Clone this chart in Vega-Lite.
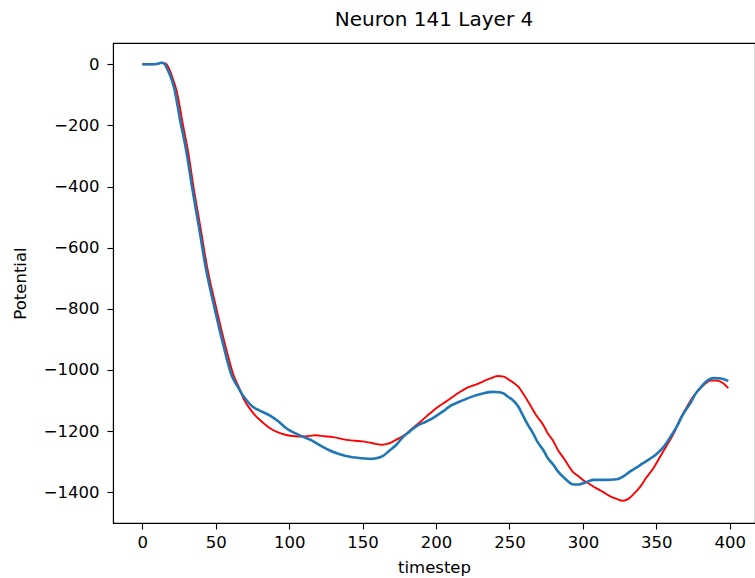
{
  "$schema": "https://vega.github.io/schema/vega-lite/v6.json",
  "width": 642,
  "height": 480,
  "autosize": {"type": "none"},
  "padding": {"left": 113, "top": 43, "right": 0, "bottom": 55},
  "background": "white",
  "title": {"text": "Neuron 141 Layer 4", "anchor": "middle", "frame": "group", "font": "DejaVu Sans", "fontSize": 20, "fontWeight": "normal", "color": "#000", "offset": -3, "baseline": "alphabetic"},
  "config": {
    "view": {"stroke": "#000", "strokeWidth": 1.1},
    "axis": {"grid": false, "labelFont": "DejaVu Sans", "labelFontSize": 16.5, "labelColor": "#000", "titleFont": "DejaVu Sans", "titleFontSize": 16.5, "titleFontWeight": "normal", "titleColor": "#000", "tickColor": "#000", "tickSize": 6, "tickWidth": 1.1, "domainColor": "#000", "domainWidth": 1.1, "labelPadding": 5, "format": "d"}
  },
  "datasets": {
    "blue": [
      {"t":0,"v":0},{"t":5,"v":0},{"t":10,"v":1},{"t":13,"v":5},{"t":15,"v":2},{"t":17,"v":-15},{"t":20,"v":-50},{"t":22,"v":-84},{"t":24,"v":-135},{"t":26,"v":-190},{"t":28,"v":-235},{"t":30,"v":-285},{"t":34,"v":-405},{"t":39,"v":-545},{"t":43,"v":-660},{"t":49,"v":-793},{"t":55,"v":-915},{"t":61,"v":-1020},{"t":65,"v":-1055},{"t":68,"v":-1080},{"t":72,"v":-1105},{"t":75,"v":-1120},{"t":80,"v":-1133},{"t":87,"v":-1150},{"t":93,"v":-1170},{"t":98,"v":-1191},{"t":104,"v":-1207},{"t":110,"v":-1220},{"t":115,"v":-1230},{"t":121,"v":-1247},{"t":127,"v":-1262},{"t":132,"v":-1272},{"t":138,"v":-1281},{"t":143,"v":-1286},{"t":150,"v":-1289},{"t":155,"v":-1291},{"t":160,"v":-1288},{"t":164,"v":-1281},{"t":168,"v":-1265},{"t":173,"v":-1245},{"t":177,"v":-1222},{"t":182,"v":-1202},{"t":187,"v":-1183},{"t":191,"v":-1174},{"t":196,"v":-1163},{"t":200,"v":-1151},{"t":205,"v":-1135},{"t":209,"v":-1120},{"t":215,"v":-1106},{"t":221,"v":-1094},{"t":226,"v":-1085},{"t":232,"v":-1077},{"t":239,"v":-1072},{"t":243,"v":-1073},{"t":246,"v":-1077},{"t":249,"v":-1088},{"t":252,"v":-1098},{"t":256,"v":-1120},{"t":259,"v":-1147},{"t":262,"v":-1175},{"t":266,"v":-1207},{"t":269,"v":-1235},{"t":273,"v":-1262},{"t":276,"v":-1288},{"t":280,"v":-1311},{"t":283,"v":-1332},{"t":287,"v":-1352},{"t":290,"v":-1365},{"t":293,"v":-1374},{"t":297,"v":-1375},{"t":300,"v":-1371},{"t":304,"v":-1364},{"t":307,"v":-1360},{"t":315,"v":-1360},{"t":323,"v":-1358},{"t":328,"v":-1347},{"t":332,"v":-1333},{"t":337,"v":-1318},{"t":341,"v":-1305},{"t":346,"v":-1290},{"t":350,"v":-1276},{"t":355,"v":-1252},{"t":359,"v":-1224},{"t":364,"v":-1185},{"t":368,"v":-1147},{"t":373,"v":-1110},{"t":377,"v":-1076},{"t":381,"v":-1053},{"t":384,"v":-1038},{"t":389,"v":-1027},{"t":394,"v":-1028},{"t":399,"v":-1037}
    ],
    "red": [
      {"t":0,"v":0},{"t":5,"v":0},{"t":10,"v":1},{"t":13,"v":5},{"t":16,"v":2},{"t":18,"v":-12},{"t":21,"v":-50},{"t":23,"v":-80},{"t":25,"v":-125},{"t":27,"v":-180},{"t":29,"v":-230},{"t":31,"v":-280},{"t":35,"v":-405},{"t":40,"v":-545},{"t":44,"v":-660},{"t":50,"v":-790},{"t":56,"v":-910},{"t":62,"v":-1015},{"t":66,"v":-1060},{"t":69,"v":-1095},{"t":73,"v":-1125},{"t":77,"v":-1150},{"t":82,"v":-1172},{"t":87,"v":-1191},{"t":92,"v":-1204},{"t":98,"v":-1213},{"t":104,"v":-1217},{"t":109,"v":-1218},{"t":114,"v":-1216},{"t":118,"v":-1214},{"t":124,"v":-1217},{"t":130,"v":-1220},{"t":135,"v":-1225},{"t":139,"v":-1229},{"t":145,"v":-1232},{"t":150,"v":-1234},{"t":155,"v":-1238},{"t":159,"v":-1242},{"t":163,"v":-1245},{"t":166,"v":-1243},{"t":170,"v":-1236},{"t":175,"v":-1223},{"t":180,"v":-1208},{"t":184,"v":-1191},{"t":190,"v":-1167},{"t":196,"v":-1142},{"t":201,"v":-1122},{"t":207,"v":-1103},{"t":212,"v":-1086},{"t":216,"v":-1073},{"t":221,"v":-1059},{"t":226,"v":-1050},{"t":232,"v":-1038},{"t":237,"v":-1028},{"t":242,"v":-1020},{"t":246,"v":-1022},{"t":249,"v":-1030},{"t":253,"v":-1043},{"t":256,"v":-1055},{"t":260,"v":-1083},{"t":264,"v":-1114},{"t":268,"v":-1147},{"t":273,"v":-1180},{"t":276,"v":-1207},{"t":280,"v":-1234},{"t":283,"v":-1262},{"t":287,"v":-1289},{"t":290,"v":-1312},{"t":293,"v":-1333},{"t":297,"v":-1348},{"t":300,"v":-1360},{"t":305,"v":-1375},{"t":309,"v":-1387},{"t":314,"v":-1400},{"t":318,"v":-1412},{"t":323,"v":-1422},{"t":327,"v":-1428},{"t":331,"v":-1422},{"t":334,"v":-1409},{"t":339,"v":-1383},{"t":343,"v":-1354},{"t":348,"v":-1322},{"t":352,"v":-1289},{"t":357,"v":-1248},{"t":362,"v":-1207},{"t":366,"v":-1163},{"t":371,"v":-1120},{"t":375,"v":-1088},{"t":380,"v":-1060},{"t":383,"v":-1046},{"t":387,"v":-1035},{"t":391,"v":-1035},{"t":396,"v":-1045},{"t":399,"v":-1060}
    ]
  },
  "encoding": {
    "x": {"field": "t", "type": "quantitative", "title": "timestep", "scale": {"domain": [-19.95, 417.2], "nice": false, "zero": false}, "axis": {"values": [0,50,100,150,200,250,300,350,400], "titlePadding": 9}},
    "y": {"field": "v", "type": "quantitative", "title": "Potential", "scale": {"domain": [-1501, 69.7], "nice": false, "zero": false}, "axis": {"values": [0,-200,-400,-600,-800,-1000,-1200,-1400], "labelPadding": 8, "titlePadding": 15}}
  },
  "layer": [
    {"data": {"name": "red"}, "mark": {"type": "line", "color": "#ff0000", "strokeWidth": 1.9, "interpolate": "monotone", "clip": true}},
    {"data": {"name": "blue"}, "mark": {"type": "line", "color": "#1f77b4", "strokeWidth": 2.6, "interpolate": "monotone", "clip": true}}
  ]
}
